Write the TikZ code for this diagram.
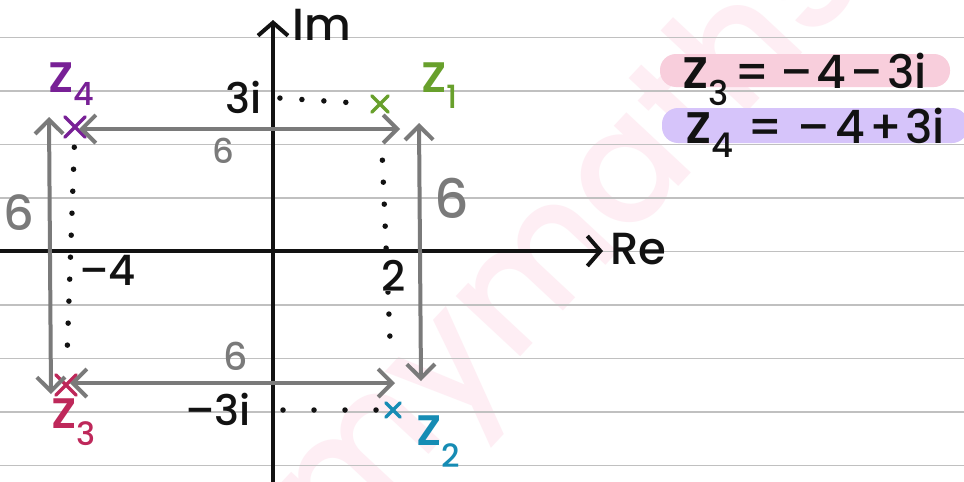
\documentclass[tikz,border=0pt]{standalone}
\usepackage{fontspec}
\setmainfont{Poppins}[UprightFont=* Medium]
\usetikzlibrary{arrows.meta,shapes.misc}
\newcommand\myfs[1]{\fontsize{#1}{#1}\selectfont}
\definecolor{rulegray}{RGB}{192,192,192}
\definecolor{arrgray}{RGB}{122,122,122}
\definecolor{inkblack}{RGB}{18,18,18}
\definecolor{zgreen}{RGB}{104,160,44}
\definecolor{zteal}{RGB}{22,140,180}
\definecolor{zcrim}{RGB}{190,40,90}
\definecolor{zpurp}{RGB}{120,32,150}
\definecolor{pillpink}{RGB}{248,206,220}
\definecolor{pillpurp}{RGB}{214,196,250}
\definecolor{wmpink}{RGB}{254,238,244}
\tikzset{
  ruleline/.style={rulegray, line width=1.5pt},
  axisline/.style={inkblack, line width=4pt, line cap=round, line join=round,
    -{Straight Barb[length=13pt,width=30pt,line width=4pt]}},
  garrow/.style={arrgray, line width=4pt, line cap=round, line join=round,
    {Straight Barb[length=14pt,width=28pt,line width=4pt]}-{Straight Barb[length=14pt,width=28pt,line width=4pt]}},
  dotline/.style={inkblack, line width=5.5pt, line cap=round, dash pattern=on 0pt off 22pt},
  ptmark/.style={cross out, draw, line width=3.5pt, line cap=round, minimum size=#1, inner sep=0pt},
  lbl/.style={inkblack, inner sep=0pt, font=\myfs{42}},
  glbl/.style={arrgray, inner sep=0pt, anchor=base},
  zlbl/.style={inner sep=0pt, anchor=base west},
  pill/.style={rounded corners=16pt, inner sep=0pt},
}
\newcommand\zsub[2]{{\myfs{54}z}\raisebox{#2}{\myfs{32}#1}}
\begin{document}
\begin{tikzpicture}[x=1pt,y=-1pt]
\useasboundingbox (0,0) rectangle (964,482);
\fill[white] (0,0) rectangle (964,482);
% watermark
\begin{scope}
\clip (0,0) rectangle (964,482);
\node[wmpink, rotate=47, anchor=base west, inner sep=0pt, font=\myfs{160}] (wm) at (335,555) {mymathscloud};
\end{scope}
% ruled lines
\foreach \yy in {37.5,91,144.5,198,251.5,305,358.5,412,465.5}
  \draw[ruleline] (0,\yy) -- (964,\yy);
% axes
\coordinate (xl) at (0,251);
\coordinate (xr) at (603,251);
\coordinate (yb) at (273,482);
\coordinate (yt) at (273,20);
\draw[axisline] (xl) -- (xr);
\draw[axisline] (yb) -- (yt);
\node[lbl, anchor=base west, font=\myfs{45}] (im) at (292,40) {Im};
\node[lbl, anchor=base west, font=\myfs{45}] (re) at (610,264) {Re};
% points
\node[ptmark=13pt, draw=zgreen] (p1) at (380,104) {};
\node[ptmark=11pt, draw=zteal] (p2) at (393,410) {};
\node[ptmark=17pt, draw=zcrim] (p3) at (66,385) {};
\node[ptmark=17pt, draw=zpurp] (p4) at (75,127) {};
% axis labels
\node[lbl, anchor=base east] (l3i) at (262,113) {3i};
\node[lbl, anchor=base east] (lm3i) at (251,425) {–3i};
\node[lbl, anchor=base west] (lm4) at (79,285) {–4};
% dotted guides
\draw[dotline, shorten <=18pt, shorten >=4pt] (l3i.east) -- (p1.west);
\draw[dotline, dash pattern=on 0pt off 31pt, shorten <=32pt, shorten >=6pt] (lm3i.east |- p2) -- (p2.west);
\draw[dotline, shorten <=10pt, shorten >=12pt] (p4) -- (p3);
\draw[dotline, shorten <=48pt, shorten >=45pt] (p1) -- (p2);
\node[lbl, anchor=base, fill=white, inner xsep=2pt] (l2) at (394,291) {2};
% gray double arrows
\coordinate (tl) at (79,129);
\coordinate (tr) at (400,129);
\coordinate (bl) at (70,383);
\coordinate (br) at (395,383);
\coordinate (lt) at (49,117);
\coordinate (lb) at (51,394);
\coordinate (rt) at (419,123);
\coordinate (rb) at (421,381);
\draw[garrow] (tl) -- (tr);
\draw[garrow] (bl) -- (br);
\draw[garrow] (lt) -- (lb);
\draw[garrow] (rt) -- (rb);
\node[glbl, font=\myfs{34}] (six1) at (223,163) {6};
\node[glbl, font=\myfs{38}] (six2) at (236,370) {6};
\node[glbl, font=\myfs{48}] (six3) at (19,230) {6};
\node[glbl, font=\myfs{54}] (six4) at (452,218) {6};
% z labels
\node[zlbl, zgreen] (z1) at (421,92) {\zsub{1}{-16pt}};
\node[zlbl, zteal] (z2) at (416,445) {\zsub{2}{-22pt}};
\node[zlbl, zcrim] (z3) at (51,428) {\zsub{3}{-17pt}};
\node[zlbl, zpurp] (z4) at (48,92) {\zsub{4}{-13pt}};
% equations
\node[pill, fill=pillpink, minimum width=290pt, minimum height=33pt] (pill1) at (805,70.5) {};
\node[pill, fill=pillpurp, minimum width=306pt, minimum height=35pt] (pill2) at (815,125.5) {};
\node[lbl, anchor=base west, font=\myfs{46}] (eq1) at (682,88) {{\myfs{56}z}\raisebox{-17pt}{\myfs{34}3}\hspace{6pt}=\hspace{10pt}–\hspace{4pt}4\hspace{4pt}–\hspace{4pt}3i};
\node[lbl, anchor=base west, font=\myfs{46}] (eq2) at (685,143) {{\myfs{56}z}\raisebox{-14pt}{\myfs{34}4}\hspace{14pt}=\hspace{14pt}–\hspace{6pt}4\hspace{4pt}+\hspace{3pt}3i};
\end{tikzpicture}
\end{document}
